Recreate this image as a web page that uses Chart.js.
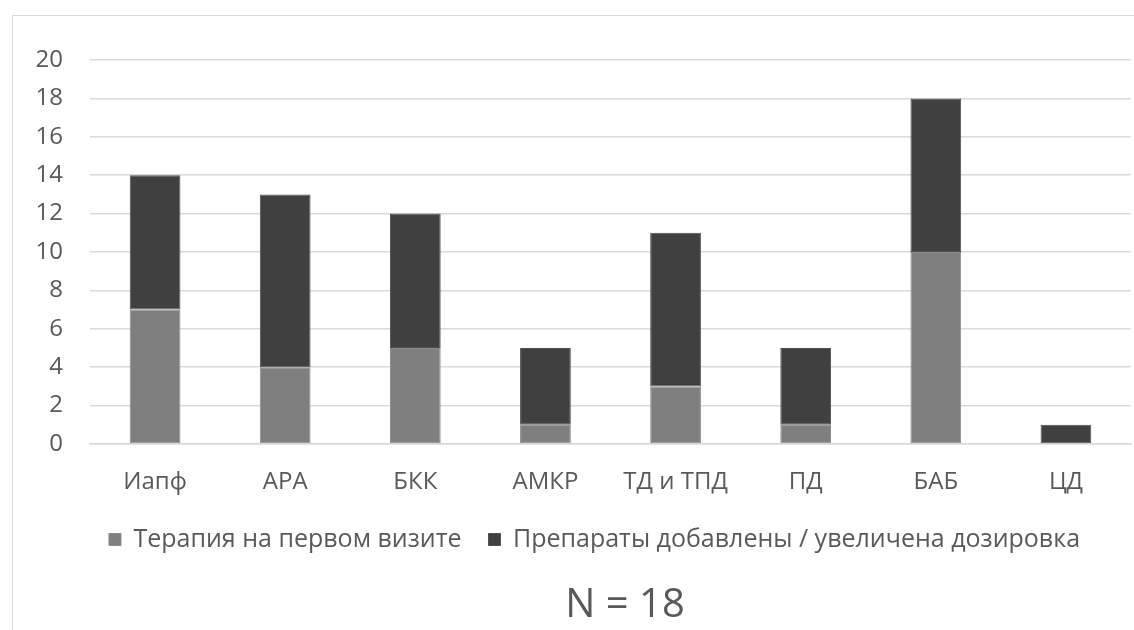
<!DOCTYPE html>
<html lang="ru">
<head>
<meta charset="utf-8">
<title>Терапия</title>
<script src="https://cdn.jsdelivr.net/npm/chart.js@4.4.1/dist/chart.umd.min.js"></script>
<style>
  html, body { margin: 0; padding: 0; background: #fff; overflow: hidden; }
  #wrap { position: relative; width: 1134px; height: 630px; }
  #frame { position: absolute; left: 12px; top: 15px; width: 1200px; height: 700px;
           border: 1.5px solid #d9d9d9; box-sizing: border-box; pointer-events: none; }
  canvas { position: absolute; left: 0; top: 0; }
</style>
</head>
<body>
<div id="wrap">
  <div id="frame"></div>
  <canvas id="c" width="1134" height="630"></canvas>
</div>
<script>
// Drug classes on the x axis
const categories = ['Иапф', 'АРА', 'БКК', 'АМКР', 'ТД и ТПД', 'ПД', 'БАБ', 'ЦД'];
// Patients on the drug at the first visit
const firstVisit = [7, 4, 5, 1, 3, 1, 10, 0];
// Patients whose drug was added / dose increased
const addedOrIncreased = [7, 9, 7, 4, 8, 4, 8, 1];
// Y axis ticks
const yTicks = [0, 2, 4, 6, 8, 10, 12, 14, 16, 18, 20];
const seriesNames = ['Терапия на первом визите', 'Препараты добавлены / увеличена дозировка'];
const footnote = 'N = 18';

const FONT = "'Open Sans', 'Noto Sans', sans-serif";
const TEXT = '#595959';
const GRID = '#d9d9d9';

// Sample size caption under the legend
const footnotePlugin = {
  id: 'footnote',
  afterLayout(chart) {
    // centre the legend under the whole frame rather than the canvas
    const lg = chart.legend;
    if (lg) { lg.left += 29; lg.right += 29; }
  },
  afterDraw(chart) {
    const ctx = chart.ctx;
    ctx.save();
    ctx.font = `40px ${FONT}`;
    ctx.fillStyle = TEXT;
    ctx.textAlign = 'center';
    ctx.textBaseline = 'middle';
    ctx.fillText(footnote, 625, 606);
    ctx.restore();
  }
};

new Chart(document.getElementById('c'), {
  type: 'bar',
  data: {
    labels: categories,
    datasets: [
      { label: seriesNames[0], data: firstVisit, backgroundColor: '#7f7f7f',
        borderColor: '#8a8a8a', borderWidth: 1, borderSkipped: false },
      { label: seriesNames[1], data: addedOrIncreased, backgroundColor: '#404040',
        borderColor: '#505050', borderWidth: 1, borderSkipped: false }
    ]
  },
  options: {
    responsive: false,
    animation: false,
    devicePixelRatio: 1,
    layout: { padding: { left: 0, right: 3, top: 60, bottom: 68 } },
    datasets: { bar: { categoryPercentage: 1, barPercentage: 0.39 } },
    plugins: {
      tooltip: { enabled: false },
      title: { display: false },
      legend: {
        position: 'bottom',
        labels: {
          font: { family: FONT, size: 25 },
          color: TEXT,
          boxWidth: 12,
          boxHeight: 12,
          padding: 27,
          useBorderRadius: false
        }
      }
    },
    scales: {
      x: {
        stacked: true,
        grid: { display: false, drawTicks: false },
        border: { display: true, color: GRID, width: 1.5 },
        ticks: { font: { family: FONT, size: 24 }, color: TEXT, padding: 24 },
        afterFit(s) { s.height = 56; }
      },
      y: {
        stacked: true,
        min: 0,
        max: 20,
        afterBuildTicks(s) { s.ticks = yTicks.map(v => ({ value: v })); },
        grid: { color: GRID, lineWidth: 1.5, drawTicks: false },
        border: { display: false },
        ticks: { font: { family: FONT, size: 24 }, color: TEXT, padding: 27 },
        afterFit(s) { s.width = 90; }
      }
    }
  },
  plugins: [footnotePlugin]
});
</script>
</body>
</html>
